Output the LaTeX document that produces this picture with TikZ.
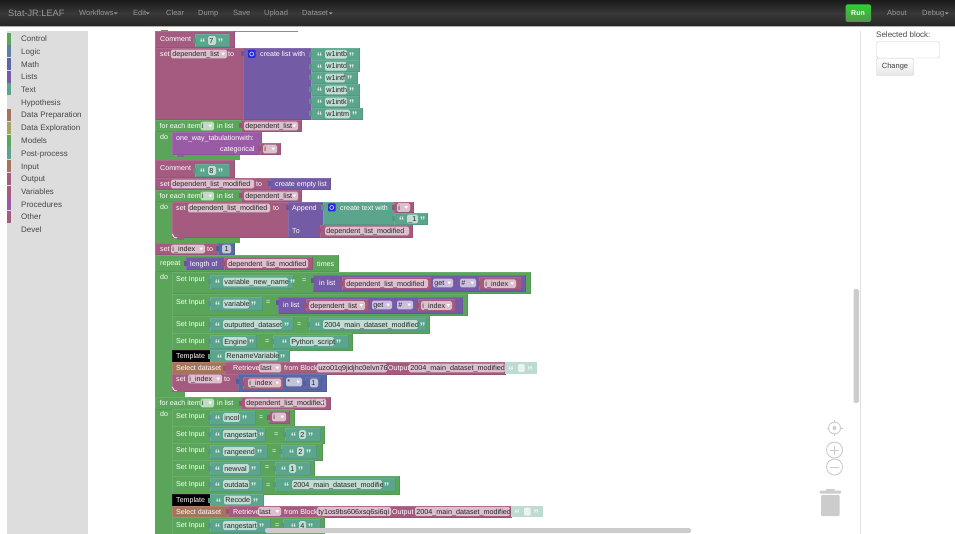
\documentclass[tikz,border=0pt]{standalone}
\usepackage{fontspec}
\setmainfont{Liberation Sans}
\definecolor{cMag}{HTML}{A55B80}
\definecolor{cTeal}{HTML}{5BA58C}
\definecolor{cGreen}{HTML}{5BA55B}
\definecolor{cPurple}{HTML}{745BA5}
\definecolor{cBlue}{HTML}{5B67A5}
\definecolor{cProc}{HTML}{995BA5}
\definecolor{cBrown}{HTML}{A5745B}
\definecolor{cLogic}{HTML}{5B80A5}
\definecolor{cOlive}{HTML}{A5A55B}
\definecolor{cPale}{HTML}{BEDBD1}
\definecolor{cSide}{HTML}{DDDDDD}
\definecolor{cGrey}{HTML}{CCCCCC}
\definecolor{cNav}{HTML}{999999}
\tikzset{
  lbl/.style={inner sep=0pt,text=white,font=\fontsize{7.1}{9}\selectfont},
  fldtxt/.style={inner sep=0pt,text=black!85,font=\fontsize{7.2}{9}\selectfont},
  qt/.style={inner sep=0pt,text=white,opacity=.85,font=\bfseries\fontsize{11}{11}\selectfont},
  side/.style={inner sep=0pt,text=black!72,font=\fontsize{8}{10}\selectfont,anchor=base west},
  nav/.style={inner sep=0pt,text=cNav,font=\fontsize{7.5}{10}\selectfont,anchor=base west},
  iconln/.style={draw=cGrey,line width=.9pt}
}
% block
\newcommand\Blk[5]{%
  \fill[#1] ({#2},{#3}) rectangle ({#4},{#5});
  \draw[#1!92!black,line width=.5pt] ({#4-.25},{#3}) -- ({#4-.25},{#5-.25}) -- ({#2},{#5-.25});
  \draw[#1!90!white,line width=.5pt] ({#2+.25},{#5}) -- ({#2+.25},{#3+.25}) -- ({#4},{#3+.25});
}
% white label: x, y centre, text
\newcommand\Lab[3]{\node[lbl,anchor=base west] at ({#1},{#2+2.6}) {#3};}
% editable field: x0, x1, y centre, text
\newcommand\Fld[4]{%
  \fill[white,fill opacity=.62,rounded corners=1.5pt] ({#1},{#3-4.4}) rectangle ({#2},{#3+4.4});
  \begin{scope}
    \clip ({#1},{#3-4.4}) rectangle ({#2},{#3+4.4});
    \node[fldtxt,anchor=base west] at ({#1+1.2},{#3+2.6}) {#4};
  \end{scope}
}
% dropdown field
\newcommand\Drop[4]{%
  \Fld{#1}{#2}{#3}{#4}
  \fill[white] ({#2-5.5},{#3-1.3}) -- ({#2-2},{#3-1.3}) -- ({#2-3.75},{#3+1.3}) -- cycle;
}
% plug on the left of a child block: x, y centre, colour
\newcommand\Notch[3]{\fill[#3!92!black] ({#1-2},{#2-2.5}) rectangle ({#1+.5},{#2+2.5});}
% quoted text block: x0,y0,x1,y1, field x0, field x1, text
\newcommand\Txt[7]{%
  \Blk{cTeal}{#1}{#2}{#3}{#4}
  \Notch{#1}{(#2+#4)/2}{cTeal}
  \Fld{#5}{#6}{(#2+#4)/2}{#7}
  \node[qt,anchor=base] at ({#5-5.5},{(#2+#4)/2+6}) {“};
  \node[qt,anchor=base] at ({#6+4.5},{(#2+#4)/2+6}) {”};
}
% variable getter: x0,y0,x1,y1, field x0, field x1, text
\newcommand\Var[7]{%
  \Blk{cMag}{#1}{#2}{#3}{#4}
  \Notch{#1}{(#2+#4)/2}{cMag}
  \Drop{#5}{#6}{(#2+#4)/2}{#7}
}
% circled mutator icon
\newcommand\Mut[2]{%
  \fill[blue!60!cBlue,rounded corners=1pt] ({#1},{#2-4}) rectangle ({#1+7.5},{#2+4});
  \draw[white!80!blue,line width=.7pt] ({#1+3.75},{#2}) circle (2pt);
}
% bump under a statement block with a white corner
\newcommand\Foot[3]{%
  \fill[#3] ({#1+5},{#2-1}) rectangle ({#1+12},{#2+2});
  \draw[white,line width=.7pt] ({#1+.4},{#2-3.5}) to[out=90,in=180] ({#1+3},{#2-.3}) -- ({#1+5},{#2-.3});
}
% Set Input row label
\newcommand\SetIn[1]{\Lab{176}{#1}{Set Input}}
\newcommand\Eq[2]{\Lab{#1}{#2}{=}}
\newcommand\ForEach[1]{%
  \Lab{159.5}{#1}{for each item}
  \Drop{200.5}{214}{#1}{i}
  \Lab{217}{#1}{in list}
}
% toolbox row
\newcommand\Cat[3]{%
  \fill[#1] (7,{#2-6}) rectangle (11,{#2+6});
  \node[side] at (21,{#2+3}) {#3};
}
\newcommand\Caret[2]{\fill[cNav] ({#1},{#2}) -- ({#1+3.5},{#2}) -- ({#1+1.75},{#2+2}) -- cycle;}
\begin{document}
\begin{tikzpicture}[x=1pt,y=-1pt]
\useasboundingbox (0,0) rectangle (955,534);
\fill[white] (0,0) rectangle (955,534);

% ---------- toolbox
\fill[cSide] (7,31) rectangle (88,534);
\Cat{cGreen}{39}{Control}
\Cat{cLogic}{51.5}{Logic}
\Cat{cBlue}{64.5}{Math}
\Cat{cPurple}{77}{Lists}
\Cat{cTeal}{89.5}{Text}
\Cat{cSide}{102.5}{Hypothesis}
\Cat{cBrown}{115}{Data Preparation}
\Cat{cOlive}{128}{Data Exploration}
\Cat{cGreen}{141}{Models}
\Cat{cTeal}{153.5}{Post-process}
\Cat{cBrown}{166.5}{Input}
\Cat{cMag}{179}{Output}
\Cat{cMag}{192}{Variables}
\Cat{cProc}{204.5}{Procedures}
\Cat{cMag}{217}{Other}
\Cat{cSide}{230}{Devel}

% ---------- right panel
\draw[black!12,line width=.8pt] (860,31) -- (860,534);
\node[side] at (876,38) {Selected block:};
\draw[cGrey,fill=white,rounded corners=1.5pt] (876.5,41.5) rectangle (939.5,58);
\draw[cGrey,top color=white,bottom color=black!10,rounded corners=1.5pt] (876.5,58.5) rectangle (913.5,75.5);
\node[inner sep=0pt,text=black!75,font=\fontsize{7.5}{10}\selectfont] (chg) at (895,67) {Change};

% ---------- first group
\fill[cTeal] (155,30.6) rectangle (298,31.8);
\fill[cBrown] (161,30.5) rectangle (168,33);
\Blk{cMag}{155}{31}{234}{48}
\Lab{160}{39}{Comment}
\Txt{195}{34}{229}{47}{208}{216}{7}

\Blk{cMag}{155}{48}{243}{120}
\Lab{160}{54}{set}
\Drop{171}{227}{54}{dependent\_list}
\Lab{228}{54}{to}
\Blk{cPurple}{243}{48}{311}{120}
\Notch{243}{54}{cPurple}
\Mut{248}{54}
\Lab{260}{54}{create list with}
\Txt{311}{48}{359}{60.5}{325}{347}{w1intb}
\Txt{311}{60.5}{359}{72}{325}{347}{w1intd}
\Txt{311}{72}{357}{84}{325}{345}{w1intf}
\Txt{311}{84}{359}{96}{325}{347}{w1inth}
\Txt{311}{96}{359}{108}{325}{347}{w1intk}
\Txt{311}{108}{362}{120}{325}{350}{w1intm}

% for each 1
\Blk{cGreen}{155}{120}{242}{132}
\fill[cGreen] (155,132) rectangle (172,160);
\fill[cGreen] (155,155) rectangle (240,160);
\Foot{172}{155}{cProc}
\ForEach{126}
\Var{241}{120}{301}{132}{244}{298}{dependent\_list}
\Lab{160}{137}{do}
\Blk{cProc}{172}{132}{261}{155}
\Lab{176}{138}{one\_way\_tabulationwith:}
\Lab{220}{149}{categorical}
\Var{260}{143}{280}{155}{263}{277}{i}

% comment 8
\Blk{cMag}{155}{160.5}{234}{178}
\Lab{160}{168}{Comment}
\Txt{195}{164}{229}{177}{208}{216}{8}

\Blk{cMag}{155}{178}{270}{190}
\Lab{160}{184}{set}
\Fld{171}{254}{184}{dependent\_list\_modified}
\Lab{256}{184}{to}
\Blk{cPurple}{270}{178}{330}{190}
\Notch{270}{184}{cPurple}
\Lab{275}{184}{create empty list}

% for each 2
\Blk{cGreen}{155}{190}{242}{202}
\fill[cGreen] (155,202) rectangle (172,243);
\fill[cGreen] (155,238) rectangle (240,243);
\ForEach{196}
\Var{241}{190}{301}{202}{244}{298}{dependent\_list}
\Lab{160}{207}{do}
\Blk{cMag}{172}{202}{288}{237.5}
\Foot{172}{238}{cMag}
\Lab{176}{208}{set}
\Fld{188}{270}{208}{dependent\_list\_modified}
\Lab{273}{208}{to}
\Blk{cPurple}{288}{202}{323}{237.5}
\Notch{288}{208}{cPurple}
\Lab{292}{208}{Append}
\Lab{292}{231}{To}
\Blk{cTeal}{323}{202}{394}{225}
\Notch{323}{208}{cTeal}
\Mut{328}{207.5}
\Lab{340}{207.5}{create text with}
\Var{394}{202}{413}{213}{397}{410}{i}
\Txt{394}{213}{427}{225}{407}{418}{\_1}
\Blk{cMag}{320}{225}{412}{237.5}
\Notch{320}{231}{cMag}
\Fld{325}{409}{231}{dependent\_list\_modified}

% i_index = 1
\Blk{cMag}{155}{243}{219}{255}
\Lab{160}{249}{set}
\Drop{171}{205}{249}{i\_index}
\Lab{207}{249}{to}
\Blk{cBlue}{218}{243}{234}{255}
\Notch{218}{249}{cBlue}
\Fld{222}{231}{249}{\,1}

% repeat
\Blk{cGreen}{155}{255}{338}{272}
\fill[cGreen] (155,272) rectangle (172,534);
\Lab{160}{263}{repeat}
\Blk{cPurple}{186}{257}{224}{270}
\Notch{186}{263.5}{cPurple}
\Lab{190}{263.5}{length of}
\Blk{cMag}{224}{257}{312}{270}
\Notch{224}{263.5}{cMag}
\Fld{227}{308}{263.5}{dependent\_list\_modified}
\Lab{317}{263.5}{times}
\Lab{160}{277}{do}

% Set Input rows
\Blk{cGreen}{172}{272}{530}{294}
\SetIn{279}
\Txt{210}{275}{293}{289}{223}{288}{variable\_new\_name}
\Eq{302}{280}
\Blk{cPurple}{313}{275}{525}{291.5}
\Notch{313}{281}{cPurple}
\Lab{319}{283}{in list}
\Blk{cMag}{342}{277.5}{431}{290}
\Notch{342}{283.5}{cMag}
\Fld{345}{428}{283.5}{dependent\_list\_modified}
\Drop{433}{453}{283}{get}
\Drop{460}{476}{283}{\#}
\Var{479}{277.5}{521}{290}{484}{516}{i\_index}

\Blk{cGreen}{172}{294}{467}{316}
\SetIn{302}
\Txt{210}{297}{262}{311}{223}{249}{variable}
\Eq{266}{302}
\Blk{cPurple}{278}{297}{462}{314}
\Notch{278}{303}{cPurple}
\Lab{283}{305}{in list}
\Var{306}{299.5}{368}{311.5}{309}{365}{dependent\_list}
\Drop{372}{392}{305}{get}
\Drop{397}{413}{305}{\#}
\Var{418}{299.5}{455}{311.5}{421}{452}{i\_index}

\Blk{cGreen}{172}{316}{429}{333}
\SetIn{324}
\Txt{210}{318}{293}{331}{223}{282}{outputted\_dataset}
\Eq{297}{324}
\Txt{309}{318}{426}{331}{323}{418}{2004\_main\_dataset\_modified}

\Blk{cGreen}{172}{333}{352}{350}
\SetIn{341}
\Txt{210}{335}{256}{348}{223}{247}{Engine}
\Eq{265}{341}
\Txt{273}{335}{348}{348}{290}{334}{Python\_script}

\Blk{black}{172}{350}{210}{362}
\Lab{176}{355.5}{Template}
\Txt{210}{350}{289}{362}{225}{278}{RenameVariable}

\Blk{cBrown}{172}{362}{225}{374}
\Lab{176}{368}{Select dataset}
\Blk{cMag}{225}{362}{505}{374}
\Notch{225}{368}{cMag}
\Lab{233}{368}{Retrieve}
\Drop{259}{281}{368}{last}
\Lab{284}{368}{from Block}
\Fld{317}{387}{368}{uzo01q9jidjhc0elvn76}
\Lab{388}{368}{Output}
\Fld{409}{505}{368}{2004\_main\_dataset\_modified}
\fill[cPale] (505,362) rectangle (537,374);
\node[qt,anchor=base] at (511,374) {“};
\fill[white,fill opacity=.7,rounded corners=1pt] (518,364) rectangle (524.5,372);
\node[qt,anchor=base] at (530,374) {”};

\Blk{cMag}{172}{374}{238}{391}
\Foot{172}{391}{cMag}
\Lab{176}{379}{set}
\Drop{188}{222}{379}{i\_index}
\Lab{224}{379}{to}
\Blk{cBlue}{238}{374}{326}{391}
\Notch{238}{381}{cBlue}
\Var{243}{377}{283}{389}{248}{281}{i\_index}
\Drop{286}{302}{382}{*}
\Blk{cBlue}{305}{377}{321}{389}
\Notch{305}{383}{cBlue}
\Fld{310}{318}{383}{1}

\fill[cGreen] (172,391.5) rectangle (185,397);

% for each 3
\Blk{cGreen}{155}{397}{242}{409}
\ForEach{403}
\Var{241}{397}{330}{409}{245}{326}{dependent\_list\_modified}
\Lab{160}{414}{do}

\Blk{cGreen}{172}{409}{294}{426}
\SetIn{416}
\Txt{210}{411}{255}{424}{223}{240}{incol}
\Eq{259}{417}
\Var{269}{411}{289}{423}{272}{286}{i}

\Blk{cGreen}{172}{426}{324}{443}
\SetIn{434}
\Txt{210}{428}{265}{441}{223}{257}{rangestart}
\Eq{274}{434}
\Txt{285}{428}{320}{441}{299}{306}{2}

\Blk{cGreen}{172}{443}{322}{460}
\SetIn{450}
\Txt{210}{445}{267}{458}{223}{255}{rangeend}
\Eq{272}{451}
\Txt{281}{445}{316}{458}{297}{304}{2}

\Blk{cGreen}{172}{460}{314}{476}
\SetIn{467}
\Txt{210}{462}{260}{475}{223}{249}{newval}
\Eq{265}{467}
\Txt{275}{462}{310}{475}{289}{296}{1}

\Blk{cGreen}{172}{476}{399}{494}
\SetIn{484}
\Txt{210}{478}{262}{491}{223}{249}{outdata}
\Eq{266}{485}
\Txt{275}{478}{395}{491}{292}{382}{2004\_main\_dataset\_modified}

\Blk{black}{172}{494}{210}{506}
\Lab{176}{499.5}{Template}
\Txt{210}{494}{263}{506}{224}{251}{Recode}

\Blk{cBrown}{172}{506}{228}{517}
\Lab{176}{511.5}{Select dataset}
\Blk{cMag}{228}{506}{511}{517}
\Notch{228}{511.5}{cMag}
\Lab{233}{511.5}{Retrieve}
\Drop{258}{281}{511.5}{last}
\Lab{284}{511.5}{from Block}
\Fld{317}{391}{511.5}{ty1os9bs606xsq6si6qi}
\Lab{392}{511.5}{Output}
\Fld{415}{510}{511.5}{2004\_main\_dataset\_modified}
\fill[cPale] (511,506) rectangle (543,517);
\node[qt,anchor=base] at (517,517.5) {“};
\fill[white,fill opacity=.7,rounded corners=1pt] (524,507.5) rectangle (530.5,515.5);
\node[qt,anchor=base] at (536,517.5) {”};

\Blk{cGreen}{172}{517}{324}{534}
\SetIn{525}
\Txt{210}{519}{270}{532}{223}{257}{rangestart}
\Eq{275}{525}
\Txt{283}{519}{320}{532}{299}{306}{4}

% ---------- scrollbars
\fill[cGrey,rounded corners=2pt] (265,528) rectangle (691,533);
\fill[cGrey,rounded corners=2pt] (853.5,289) rectangle (859,403);

% ---------- workspace controls
\draw[iconln] (834.5,428) circle (6);
\fill[cGrey] (834.5,428) circle (2);
\draw[iconln,line width=.6pt] (834.5,420) -- (834.5,422) (834.5,434) -- (834.5,436) (826.5,428) -- (828.5,428) (840.5,428) -- (842.5,428);
\draw[iconln] (834.5,450) circle (8);
\draw[iconln,line width=.7pt] (830,450) -- (839,450) (834.5,445.5) -- (834.5,454.5);
\draw[iconln] (834.5,467) circle (8);
\draw[iconln,line width=.7pt] (830,467) -- (839,467);
\fill[cGrey,rounded corners=.8pt] (819.5,490.5) rectangle (841,493.5);
\fill[cGrey,rounded corners=.8pt] (826,489) rectangle (835,491);
\fill[cGrey,rounded corners=1pt] (821,495) rectangle (839.5,516);

% ---------- navbar
\shade[top color=black!90,bottom color=black!85,middle color=black!78] (0,0) rectangle (955,26);
\fill[black!30] (0,26) rectangle (955,26.6);
\node[nav,font=\fontsize{9.2}{12}\selectfont] at (8,16.5) {Stat-JR:LEAF};
\node[nav] at (79,16) {Workflows}; \Caret{114}{12.5}
\node[nav] at (133,16) {Edit}; \Caret{146}{12.5}
\node[nav] at (166,16) {Clear};
\node[nav] at (198,16) {Dump};
\node[nav] at (233,16) {Save};
\node[nav] at (264,16) {Upload};
\node[nav] at (302,16) {Dataset}; \Caret{329}{12.5}
\shade[top color=green!45!cGreen,bottom color=cGreen!90!black,rounded corners=1.5pt] (845.5,4.5) rectangle (871,22);
\node[inner sep=0pt,text=white,font=\bfseries\fontsize{7}{10}\selectfont] (run) at (858,13) {Run};
\node[nav] at (887,16) {About};
\node[nav] at (922,16) {Debug}; \Caret{945}{12.5}
\end{tikzpicture}
\end{document}
